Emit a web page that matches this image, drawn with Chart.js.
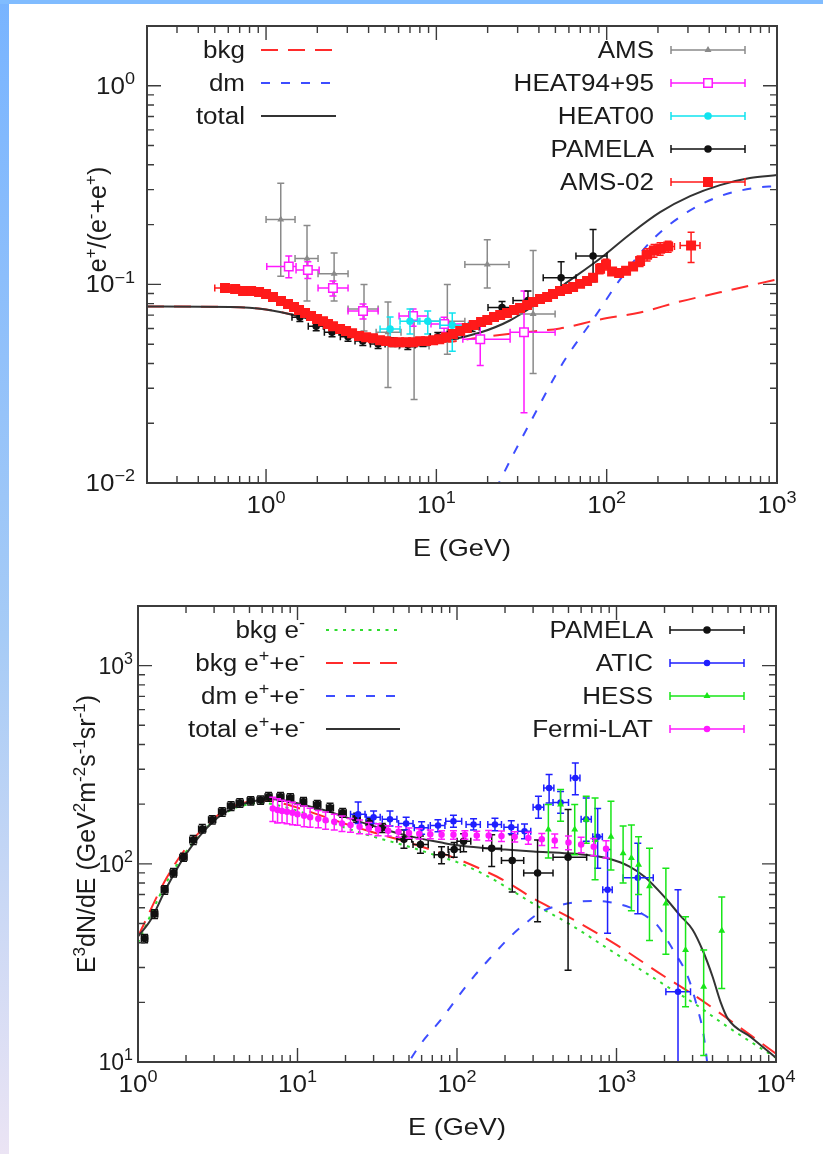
<!DOCTYPE html>
<html>
<head>
<meta charset="utf-8">
<script src="https://cdn.jsdelivr.net/npm/chart.js@4.4.1/dist/chart.umd.min.js"></script>
<style>
  body { margin: 0; width: 823px; height: 1154px; background: #fff; position: relative; overflow: hidden; }
  #stripeLeft { position: absolute; left: 0; top: 0; width: 9px; height: 1154px;
    background: linear-gradient(to bottom, #78b4ff, #a6cbf6 55%, #ebe4f4); }
  #stripeTop { position: absolute; left: 0; top: 0; width: 823px; height: 4px; background: #80bcff; }
  canvas { position: absolute; left: 0; }
</style>
</head>
<body>
<div id="stripeLeft"></div>
<div id="stripeTop"></div>
<canvas id="fracChart" width="823" height="577" style="top:0"></canvas>
<canvas id="specChart" width="823" height="577" style="top:577px"></canvas>
<script>
// ---------- panel 1: positron fraction ----------
const fracXTicks = [1, 10, 100, 1000];
const fracXLabels = ['10^{0}', '10^{1}', '10^{2}', '10^{3}'];
const fracYTicks = [0.01, 0.1, 1];
const fracYLabels = ['10^{\u22122}', '10^{\u22121}', '10^{0}'];

const fracBkgE = [0.2, 0.615, 1.0, 1.585, 2.38, 3.56, 5.35, 8.02, 12.0, 18.1, 31.0, 53.2, 91.5, 157, 270, 463, 1000];
const fracBkg  = [0.0774, 0.0770, 0.0748, 0.0689, 0.0621, 0.0559, 0.0521, 0.0509, 0.0515, 0.054, 0.0572, 0.060, 0.0666, 0.0722, 0.082, 0.0912, 0.106];
const fracDmE = [20, 23.3, 37, 55.5, 83.2, 120, 187, 297, 463, 724, 1000];
const fracDm  = [0.0075, 0.01, 0.0215, 0.0404, 0.0666, 0.106, 0.169, 0.231, 0.278, 0.305, 0.313];
const fracTotE = [0.2, 0.615, 1.0, 1.585, 2.38, 3.56, 5.35, 8.02, 12.0, 18.1, 27.0, 40.6, 61, 91.5, 137, 206, 309, 463, 694, 1000];
const fracTot  = [0.0774, 0.0770, 0.0748, 0.0689, 0.0621, 0.0559, 0.0522, 0.0512, 0.0527, 0.0572, 0.0658, 0.082, 0.105, 0.135, 0.179, 0.231, 0.278, 0.316, 0.343, 0.355];

// AMS (gray)
const amsE   = [1.22, 1.74, 2.51, 3.76, 5.2, 7.4, 11.6, 19.9, 37];
const amsElo = [1.0, 1.48, 2.02, 3.03, 4.43, 6.04, 9.06, 14.7, 26.7];
const amsEhi = [1.48, 2.02, 3.03, 4.55, 6.2, 9.06, 14.7, 26.7, 49.8];
const amsF   = [0.212, 0.135, 0.113, 0.0752, 0.0574, 0.0489, 0.0653, 0.126, 0.071];
const amsFlo = [0.110, 0.0824, 0.0824, 0.0582, 0.0303, 0.0263, 0.0445, 0.096, 0.0356];
const amsFhi = [0.323, 0.198, 0.144, 0.1, 0.0815, 0.0692, 0.1, 0.168, 0.148];

// HEAT94+95 (magenta)
const heatE   = [1.36, 1.76, 2.47, 3.71, 7.3, 11.1, 18.1, 32.7];
const heatElo = [1.01, 1.5, 2.02, 3.03, 6.04, 9.3, 14.3, 27.1];
const heatEhi = [1.5, 2.05, 3.03, 4.55, 8.9, 15.6, 27.1, 49.8];
const heatF   = [0.123, 0.118, 0.096, 0.0734, 0.0693, 0.0631, 0.053, 0.0574];
const heatFlo = [0.108, 0.107, 0.0874, 0.0669, 0.0616, 0.0574, 0.0391, 0.0226];
const heatFhi = [0.139, 0.13, 0.104, 0.0796, 0.0752, 0.0684, 0.0669, 0.0927];

// HEAT00 (cyan)
const heat00E   = [5.35, 7.0, 8.9, 12.4];
const heat00Elo = [4.67, 6.12, 7.8, 10.5];
const heat00Ehi = [6.12, 8.0, 10.5, 15.4];
const heat00F   = [0.0596, 0.0653, 0.0653, 0.0623];
const heat00Flo = [0.05, 0.0562, 0.0562, 0.046];
const heat00Fhi = [0.0685, 0.0752, 0.0734, 0.0718];

// PAMELA positron fraction (black)
const pamFracE   = [1.58, 1.97, 2.44, 3.03, 3.7, 4.55, 5.57, 6.8, 8.35, 10.2, 12.9, 16.2, 24.3, 34.5, 54, 83.2];
const pamFracElo = [1.42, 1.77, 2.2, 2.73, 3.33, 4.1, 5.0, 6.1, 7.5, 9.2, 11.6, 14.6, 20.1, 28.2, 42.4, 66];
const pamFracEhi = [1.74, 2.17, 2.68, 3.33, 4.07, 5.0, 6.1, 7.5, 9.2, 11.2, 14.2, 17.8, 29.8, 42.4, 66.1, 100.5];
const pamFrac    = [0.0684, 0.0616, 0.0574, 0.0545, 0.0519, 0.0501, 0.0513, 0.0495, 0.0513, 0.0545, 0.0561, 0.061, 0.0765, 0.083, 0.108, 0.139];
const pamFracLo  = [0.065, 0.0585, 0.0545, 0.0518, 0.0493, 0.0476, 0.0487, 0.047, 0.0487, 0.0518, 0.0533, 0.058, 0.0684, 0.0752, 0.0906, 0.103];
const pamFracHi  = [0.0718, 0.0647, 0.0603, 0.0572, 0.0545, 0.0526, 0.0539, 0.052, 0.0539, 0.0572, 0.0589, 0.064, 0.0821, 0.0927, 0.130, 0.189];

// AMS-02 (red)
const ams02E = [0.574, 0.658, 0.733, 0.817, 0.910, 1.0, 1.099, 1.224, 1.346, 1.46, 1.562, 1.694, 1.837, 1.993, 2.161, 2.312, 2.474, 2.72, 2.95, 3.2,
  3.52, 3.87, 4.25, 4.67, 5.07, 5.57, 6.04, 6.64, 7.3, 8.02, 8.7, 9.57, 10.4, 11.4, 12.5, 13.8, 15.1, 16.6, 18.3, 19.9,
  21.8, 23.7, 26.0, 28.6, 31.0, 34.1, 37.0, 40.6, 44.7, 48.4, 53.2, 58.5, 63.5, 69.8, 76.7, 83.2, 91.5, 99.1, 107.6, 118.3,
  130, 142.9, 157.1, 172.7, 189.7, 206, 229.6, 313];
const ams02F = [0.0959, 0.0949, 0.0927, 0.0927, 0.0916, 0.0895, 0.0865, 0.0824, 0.0796, 0.0769, 0.0743, 0.0718, 0.0693, 0.0669, 0.0653, 0.0631, 0.0616, 0.0596, 0.0582, 0.0568,
  0.0549, 0.0542, 0.0536, 0.0524, 0.0518, 0.0512, 0.0512, 0.0512, 0.0512, 0.0518, 0.0518, 0.0524, 0.053, 0.0542, 0.0562, 0.0582, 0.0603, 0.0624, 0.0646, 0.0661,
  0.0685, 0.0701, 0.0718, 0.0743, 0.0761, 0.0788, 0.0816, 0.0845, 0.0865, 0.0895, 0.0927, 0.0949, 0.0971, 0.1006, 0.104, 0.108, 0.120, 0.126, 0.116, 0.114,
  0.117, 0.123, 0.131, 0.141, 0.148, 0.151, 0.155, 0.157];
const ams02Elo = [0.5, 0.62, 0.7, 0.78, null, null, null, null, null, null, null, null, null, null, null, null, null, null, null, null,
  null, null, null, null, null, null, null, null, null, null, null, null, null, null, null, null, null, null, null, null,
  null, null, null, null, null, null, null, null, null, null, null, null, null, null, null, null, null, null, null, null,
  null, null, null, 162, 178, 190, 206, 270];
const ams02Ehi = [0.65, 0.7, 0.78, 0.86, null, null, null, null, null, null, null, null, null, null, null, null, null, null, null, null,
  null, null, null, null, null, null, null, null, null, null, null, null, null, null, null, null, null, null, null, null,
  null, null, null, null, null, null, null, null, null, null, null, null, null, null, null, null, null, null, null, null,
  null, null, null, 184, 202, 222, 250, 353];
const ams02Flo = [null, null, null, null, null, null, null, null, null, null, null, null, null, null, null, null, null, null, null, null,
  null, null, null, null, null, null, null, null, null, null, null, null, null, null, null, null, null, null, null, null,
  null, null, null, null, null, null, null, null, null, null, null, null, null, null, null, null, 0.113, 0.118, null, null,
  null, null, 0.123, 0.131, 0.137, 0.140, 0.145, 0.129];
const ams02Fhi = [null, null, null, null, null, null, null, null, null, null, null, null, null, null, null, null, null, null, null, null,
  null, null, null, null, null, null, null, null, null, null, null, null, null, null, null, null, null, null, null, null,
  null, null, null, null, null, null, null, null, null, null, null, null, null, null, null, null, 0.127, 0.134, null, null,
  null, null, 0.139, 0.151, 0.159, 0.162, 0.165, 0.183];

// ---------- panel 2: e+ + e- spectrum ----------
const specXTicks = [1, 10, 100, 1000, 10000];
const specXLabels = ['10^{0}', '10^{1}', '10^{2}', '10^{3}', '10^{4}'];
const specYTicks = [10, 100, 1000];
const specYLabels = ['10^{1}', '10^{2}', '10^{3}'];

const bkgElE = [1, 1.5, 2, 3, 4, 5, 6, 8, 10, 15, 20, 30, 50, 80, 100, 150, 200, 300, 500, 1000, 2000, 3000, 5000, 10000];
const bkgEl  = [40, 80, 115, 165, 190, 200, 203, 195, 185, 165, 152, 137, 122, 108, 102, 88, 77, 63, 50, 35, 24.5, 20, 15, 10.5];
const bkgAllE = [1, 1.5, 2, 3, 4, 5, 6, 8, 10, 15, 20, 30, 50, 80, 100, 150, 200, 300, 500, 1000, 2000, 3000, 5000, 10000];
const bkgAll  = [43, 84, 120, 170, 196, 206, 209, 202, 192, 172, 159, 144, 128, 113, 106, 92, 82, 67, 54, 39, 27, 22, 16.5, 11];
const dmAllE = [45, 50, 60, 80, 100, 130, 170, 210, 260, 340, 450, 550, 700, 850, 1000, 1200, 1500, 1800, 2300, 2800, 3200, 3500, 3700, 3900];
const dmAll  = [8.5, 10, 12.5, 16.5, 21, 27.5, 35, 42, 49, 57.5, 62, 64, 65, 64.5, 63, 60.5, 55, 49, 36, 27, 19, 14, 10, 7];
const totAllE = [1, 1.2, 1.5, 2, 3, 4, 5, 6, 7, 8, 10, 15, 20, 30, 50, 80, 100, 150, 200, 300, 500, 700, 900, 1200, 1500, 2000, 2500, 3000, 3500, 4000, 4500, 5000, 7000, 10000];
const totAll  = [43, 52, 75, 112, 165, 192, 205, 210, 212, 210, 202, 186, 172, 155, 138, 128, 124, 120, 118, 115.5, 113, 110, 106, 97, 86, 68, 55, 46.5, 36, 27, 20, 16.5, 13.3, 10.5];

// PAMELA electrons (black)
const pamSpecE   = [1.1, 1.27, 1.47, 1.67, 1.93, 2.22, 2.53, 2.92, 3.37, 3.83, 4.35, 5.09, 5.87, 6.59, 7.82, 9.02, 10.9, 13.3, 16.0, 19.2, 23.5, 28.3, 34.0, 46.5, 59, 80, 96, 110, 165, 222, 320, 497];
const pamSpecElo = [1.05, 1.21, 1.4, 1.59, 1.83, 2.11, 2.4, 2.77, 3.2, 3.64, 4.13, 4.84, 5.58, 6.26, 7.43, 8.57, 10.4, 12.6, 15.2, 18.2, 22.3, 26.9, 32.3, 42, 53, 72, 88, 100, 145, 190, 262, 400];
const pamSpecEhi = [1.15, 1.33, 1.54, 1.75, 2.03, 2.33, 2.66, 3.07, 3.54, 4.02, 4.57, 5.34, 6.16, 6.92, 8.21, 9.47, 11.4, 14, 16.8, 20.2, 24.7, 29.7, 35.7, 52, 66, 89, 105, 122, 190, 262, 400, 650];
const pamSpec    = [42, 55.9, 73.9, 90.2, 108, 132, 150, 167, 183, 196, 203, 208, 210, 218, 218, 215, 206, 199, 192, 181, 171, 161, 152, 133, 125, 111, 118, 130, 120, 104, 90, 108];
const pamSpecLo  = [40, 53, 70.2, 85.7, 103, 125, 143, 159, 174, 186, 193, 198, 200, 207, 207, 204, 196, 189, 182, 172, 162, 153, 144, 120, 113, 100, 108, 115, 97, 72, 51, 29];
const pamSpecHi  = [44, 58.7, 77.6, 94.7, 113, 139, 158, 175, 192, 206, 213, 218, 220, 229, 229, 226, 216, 209, 202, 190, 180, 169, 160, 148, 138, 122, 128, 142, 140, 140, 132, 188];

// ATIC (blue)
const aticE   = [24, 30, 38, 48, 60, 76, 95, 127, 173, 219, 265, 324, 378, 446, 552, 646, 762, 879, 1360, 2430];
const aticElo = [21.5, 27, 34, 43, 54, 68, 85, 114, 156, 197, 240, 300, 350, 400, 515, 600, 710, 820, 1100, 2040];
const aticEhi = [26.5, 33, 42, 53, 66, 84, 107, 140, 190, 241, 290, 350, 405, 500, 590, 695, 815, 940, 1700, 2910];
const atic    = [178, 172, 168, 160, 152, 156, 164, 158, 158, 153, 146, 193, 241, 204, 271, 168, 137, 74, 85, 22.6];
const aticLo  = [160, 160, 155, 148, 141, 145, 153, 148, 147, 142, 134, 170, 203, 180, 223, 130, 95, 44.6, 56, 5];
const aticHi  = [205, 185, 185, 172, 163, 167, 176, 169, 170, 165, 159, 219, 282, 232, 323, 215, 190, 118, 127, 74];

// HESS (green)
const hessE  = [374, 446, 547, 646, 734, 923, 1100, 1240, 1375, 1610, 2040, 2710, 3520, 4570];
const hess   = [149, 199, 149, 167, 132, 137, 113, 107, 99, 77, 63, 36.7, 24, 46];
const hessLo = [107, 164, 111, 127, 83, 93, 80, 58, 70, 41, 35, 19, 10.8, 23.5];
const hessHi = [199, 237, 199, 219, 215, 207, 155, 157, 137, 120, 95, 54, 36.7, 68];

// Fermi-LAT (magenta), relative error per point
const fermiE   = [7.0, 7.5, 8.0, 8.6, 9.3, 10.0, 11, 12, 13.5, 15, 17, 19, 21.5, 24.5, 28, 32, 37, 43, 50, 58, 68, 80, 95, 112, 133, 158, 190, 230, 280, 340, 410, 500, 600, 720, 860];
const fermi    = [190, 187, 185, 183, 181, 178, 175, 172, 169, 166, 163, 160, 157, 154, 151, 149, 147, 145, 143, 142, 141, 140, 140, 140, 139, 139, 138, 137, 135, 133, 131, 128, 125, 122, 119];
const fermiErr = [0.14, 0.14, 0.13, 0.13, 0.13, 0.12, 0.12, 0.11, 0.1, 0.1, 0.09, 0.09, 0.08, 0.08, 0.07, 0.07, 0.06, 0.06, 0.06, 0.06, 0.05, 0.05, 0.05, 0.05, 0.05, 0.06, 0.06, 0.06, 0.07, 0.07, 0.08, 0.08, 0.09, 0.1, 0.1];

// ---------- helpers ----------
function pts(xs, ys, xl, xh, yl, yh) {
  return xs.map((x, i) => ({
    x: x, y: ys[i],
    xl: xl ? xl[i] : null, xh: xh ? xh[i] : null,
    yl: yl ? yl[i] : null, yh: yh ? yh[i] : null
  }));
}

const FONT = '"Liberation Sans", Arial, Helvetica, sans-serif';
const STRETCH = 1.13;

function parseRich(s) {
  const parts = [];
  let buf = '', i = 0;
  while (i < s.length) {
    if (s[i] === '^') {
      if (buf) { parts.push({ t: buf, sup: false }); buf = ''; }
      if (s[i + 1] === '{') {
        const j = s.indexOf('}', i);
        parts.push({ t: s.slice(i + 2, j), sup: true });
        i = j + 1;
      } else {
        parts.push({ t: s[i + 1], sup: true });
        i += 2;
      }
    } else { buf += s[i]; i++; }
  }
  if (buf) parts.push({ t: buf, sup: false });
  return parts;
}

function drawRich(ctx, s, x, y, size, align, stretch) {
  const parts = parseRich(s);
  const big = size + 'px ' + FONT;
  const small = Math.round(size * 0.68) + 'px ' + FONT;
  let w = 0;
  parts.forEach(p => { ctx.font = p.sup ? small : big; p.w = ctx.measureText(p.t).width; w += p.w; });
  const sw = w * stretch;
  const x0 = align === 'right' ? x - sw : (align === 'center' ? x - sw / 2 : x);
  ctx.save();
  ctx.translate(x0, y);
  ctx.scale(stretch, 1);
  ctx.textAlign = 'left';
  ctx.textBaseline = 'alphabetic';
  let cx = 0;
  parts.forEach(p => {
    ctx.font = p.sup ? small : big;
    ctx.fillText(p.t, cx, p.sup ? -size * 0.42 : 0);
    cx += p.w;
  });
  ctx.restore();
}

function logTicks(min, max) {
  const out = [];
  for (let d = Math.floor(Math.log10(min)); d <= Math.ceil(Math.log10(max)); d++) {
    for (let k = 1; k <= 9; k++) {
      const v = k * Math.pow(10, d);
      if (v >= min * 0.999 && v <= max * 1.001) out.push({ v: v, major: k === 1 });
    }
  }
  return out;
}

function marker(ctx, style, r, x, y, fill, stroke) {
  ctx.save();
  ctx.fillStyle = fill; ctx.strokeStyle = stroke; ctx.lineWidth = 1.5;
  ctx.beginPath();
  if (style === 'rect') {
    const s = r * Math.SQRT1_2;
    ctx.rect(x - s, y - s, 2 * s, 2 * s);
  } else if (style === 'triangle') {
    ctx.moveTo(x, y - r); ctx.lineTo(x + r * 0.87, y + r * 0.5); ctx.lineTo(x - r * 0.87, y + r * 0.5); ctx.closePath();
  } else {
    ctx.arc(x, y, r, 0, Math.PI * 2);
  }
  ctx.fill(); ctx.stroke();
  ctx.restore();
}

// error bars drawn under each data set's markers
const errorBars = {
  id: 'errorBars',
  beforeDatasetDraw(chart, args) {
    const ds = chart.data.datasets[args.index];
    if (!ds.errorBars) return;
    const { ctx, chartArea: a, scales: { x, y } } = chart;
    const cap = ds.capSize || 3.5;
    ctx.save();
    ctx.beginPath();
    ctx.rect(a.left, a.top, a.right - a.left, a.bottom - a.top);
    ctx.clip();
    ctx.strokeStyle = ds.borderColor;
    ctx.lineWidth = ds.errorWidth || 1.5;
    ctx.beginPath();
    ds.data.forEach(p => {
      const px = x.getPixelForValue(p.x), py = y.getPixelForValue(p.y);
      if (p.xl != null && p.xh != null) {
        const x0 = x.getPixelForValue(p.xl), x1 = x.getPixelForValue(p.xh);
        ctx.moveTo(x0, py); ctx.lineTo(x1, py);
        ctx.moveTo(x0, py - cap); ctx.lineTo(x0, py + cap);
        ctx.moveTo(x1, py - cap); ctx.lineTo(x1, py + cap);
      }
      if (p.yl != null && p.yh != null) {
        const y0 = y.getPixelForValue(p.yl), y1 = y.getPixelForValue(p.yh);
        ctx.moveTo(px, y0); ctx.lineTo(px, y1);
        ctx.moveTo(px - cap, y0); ctx.lineTo(px + cap, y0);
        ctx.moveTo(px - cap, y1); ctx.lineTo(px + cap, y1);
      }
    });
    ctx.stroke();
    ctx.restore();
  }
};

// gnuplot-like frame, inward ticks, labels and key
const gnuFrame = {
  id: 'gnuFrame',
  afterDraw(chart, args, o) {
    const { ctx, chartArea: a, scales: { x, y } } = chart;
    ctx.save();
    ctx.strokeStyle = '#3c3c3c';
    ctx.lineWidth = 1.4;
    ctx.beginPath();
    logTicks(x.min, x.max).forEach(t => {
      const p = x.getPixelForValue(t.v), len = t.major ? 14 : 7;
      ctx.moveTo(p, a.bottom); ctx.lineTo(p, a.bottom - len);
      ctx.moveTo(p, a.top); ctx.lineTo(p, a.top + len);
    });
    logTicks(y.min, y.max).forEach(t => {
      const p = y.getPixelForValue(t.v), len = t.major ? 14 : 7;
      ctx.moveTo(a.left, p); ctx.lineTo(a.left + len, p);
      ctx.moveTo(a.right, p); ctx.lineTo(a.right - len, p);
    });
    ctx.stroke();
    ctx.lineWidth = 2;
    ctx.strokeRect(a.left, a.top, a.right - a.left, a.bottom - a.top);

    ctx.fillStyle = '#1b1b1b';
    o.xTicks.forEach((v, i) => drawRich(ctx, o.xLabels[i], x.getPixelForValue(v), a.bottom + 30, 23, 'center', STRETCH));
    o.yTicks.forEach((v, i) => drawRich(ctx, o.yLabels[i], a.left - o.yLabelGap, y.getPixelForValue(v) + 8, 23, 'right', o.yLabelStretch));
    drawRich(ctx, o.xTitle, (a.left + a.right) / 2, a.bottom + 73, 24, 'center', STRETCH);
    ctx.save();
    ctx.translate(a.left - o.yTitleGap, (a.top + a.bottom) / 2 + o.yTitleShift);
    ctx.rotate(-Math.PI / 2);
    drawRich(ctx, o.yTitle, 0, 9, 25, 'center', 1);
    ctx.restore();

    // key
    const k = o.key;
    chart.data.datasets.forEach(ds => {
      if (ds.keyCol == null) return;
      const ry = a.top + k.row0 + ds.keyRow * k.rowH;
      ctx.fillStyle = '#1b1b1b';
      if (ds.keyCol === 'left') {
        drawRich(ctx, ds.label, a.left + k.leftText, ry + 8, 23, 'right', STRETCH);
        ctx.save();
        ctx.strokeStyle = ds.borderColor;
        ctx.lineWidth = ds.borderWidth;
        ctx.setLineDash(ds.borderDash || []);
        ctx.beginPath();
        ctx.moveTo(a.left + k.leftSample[0], ry); ctx.lineTo(a.left + k.leftSample[1], ry);
        ctx.stroke();
        ctx.restore();
      } else {
        drawRich(ctx, ds.label, a.right - k.rightText, ry + 8, 23, 'right', STRETCH);
        const x0 = a.right - k.rightSample[0], x1 = a.right - k.rightSample[1];
        ctx.save();
        ctx.strokeStyle = ds.borderColor;
        ctx.lineWidth = 1.5;
        ctx.beginPath();
        ctx.moveTo(x0, ry); ctx.lineTo(x1, ry);
        ctx.moveTo(x0, ry - 4); ctx.lineTo(x0, ry + 4);
        ctx.moveTo(x1, ry - 4); ctx.lineTo(x1, ry + 4);
        ctx.stroke();
        ctx.restore();
        marker(ctx, ds.pointStyle, ds.pointRadius, (x0 + x1) / 2, ry, ds.pointBackgroundColor, ds.borderColor);
      }
    });
    ctx.restore();
  }
};

function curve(label, xs, ys, color, dash, row) {
  return {
    label: label, data: pts(xs, ys), showLine: true, borderColor: color, borderWidth: 2,
    borderDash: dash, pointRadius: 0, cubicInterpolationMode: 'monotone', keyCol: 'left', keyRow: row
  };
}

function series(label, data, color, style, radius, fill, row) {
  return {
    label: label, data: data, showLine: false, errorBars: true, borderColor: color,
    pointStyle: style, pointRadius: radius, pointBackgroundColor: fill, pointBorderColor: color,
    pointBorderWidth: 1.5, keyCol: 'right', keyRow: row
  };
}

function makeChart(id, datasets, xr, yr, padding, frame) {
  datasets.forEach((d, i) => { d.order = datasets.length - i; });
  return new Chart(document.getElementById(id).getContext('2d'), {
    type: 'scatter',
    data: { datasets: datasets },
    options: {
      responsive: false,
      animation: false,
      devicePixelRatio: 1,
      layout: { padding: padding },
      scales: {
        x: { type: 'logarithmic', min: xr[0], max: xr[1], display: false },
        y: { type: 'logarithmic', min: yr[0], max: yr[1], display: false }
      },
      plugins: { legend: { display: false }, tooltip: { enabled: false }, gnuFrame: frame }
    },
    plugins: [errorBars, gnuFrame]
  });
}

const RED = '#ff2b2b', BLUE = '#3d4dff', MAG = '#ff19ff';

makeChart('fracChart', [
  curve('bkg', fracBkgE, fracBkg, RED, [17, 10], 0),
  curve('dm', fracDmE, fracDm, BLUE, [9, 11], 1),
  curve('total', fracTotE, fracTot, '#333333', [], 2),
  series('AMS', pts(amsE, amsF, amsElo, amsEhi, amsFlo, amsFhi), '#8a8a8a', 'triangle', 2.5, '#8a8a8a', 0),
  series('HEAT94+95', pts(heatE, heatF, heatElo, heatEhi, heatFlo, heatFhi), MAG, 'rect', 6, '#ffffff', 1),
  series('HEAT00', pts(heat00E, heat00F, heat00Elo, heat00Ehi, heat00Flo, heat00Fhi), '#10e4f0', 'circle', 3, '#10e4f0', 2),
  series('PAMELA', pts(pamFracE, pamFrac, pamFracElo, pamFracEhi, pamFracLo, pamFracHi), '#111111', 'circle', 3, '#111111', 3),
  series('AMS-02', pts(ams02E, ams02F, ams02Elo, ams02Ehi, ams02Flo, ams02Fhi), '#ff1a1a', 'rect', 6, '#ff1a1a', 4)
], [0.2, 1000], [0.01, 2], { left: 147, right: 46, top: 26, bottom: 94 }, {
  xTicks: fracXTicks, xLabels: fracXLabels, yTicks: fracYTicks, yLabels: fracYLabels,
  xTitle: 'E (GeV)', yTitle: 'e^{+}/(e^{-}+e^{+})', yLabelGap: 12, yLabelStretch: STRETCH, yTitleGap: 50, yTitleShift: -35,
  key: { row0: 24, rowH: 33, leftText: 98, leftSample: [114, 189], rightText: 123, rightSample: [106, 32] }
});

makeChart('specChart', [
  curve('bkg e^{-}', bkgElE, bkgEl, '#2fdc2f', [3, 5.5], 0),
  curve('bkg e^{+}+e^{-}', bkgAllE, bkgAll, RED, [17, 10], 1),
  curve('dm e^{+}+e^{-}', dmAllE, dmAll, BLUE, [9, 11], 2),
  curve('total e^{+}+e^{-}', totAllE, totAll, '#333333', [], 3),
  series('PAMELA', pts(pamSpecE, pamSpec, pamSpecElo, pamSpecEhi, pamSpecLo, pamSpecHi), '#111111', 'circle', 3, '#111111', 0),
  series('ATIC', pts(aticE, atic, aticElo, aticEhi, aticLo, aticHi), '#1f1fff', 'circle', 2.5, '#1f1fff', 1),
  series('HESS', pts(hessE, hess, null, null, hessLo, hessHi), '#19e619', 'triangle', 2.5, '#19e619', 2),
  series('Fermi-LAT', pts(fermiE, fermi, null, null, fermi.map((v, i) => v * (1 - fermiErr[i])), fermi.map((v, i) => v * (1 + fermiErr[i]))), MAG, 'circle', 2.5, MAG, 3)
], [1, 10000], [10, 2000], { left: 138, right: 47, top: 29, bottom: 92 }, {
  xTicks: specXTicks, xLabels: specXLabels, yTicks: specYTicks, yLabels: specYLabels,
  xTitle: 'E (GeV)', yTitle: 'E^{3}dN/dE (GeV^{2}m^{-2}s^{-1}sr^{-1})', yLabelGap: 5, yLabelStretch: 1, yTitleGap: 52, yTitleShift: 0,
  key: { row0: 24, rowH: 33, leftText: 167, leftSample: [188, 262], rightText: 123, rightSample: [106, 32] }
});
</script>
</body>
</html>
